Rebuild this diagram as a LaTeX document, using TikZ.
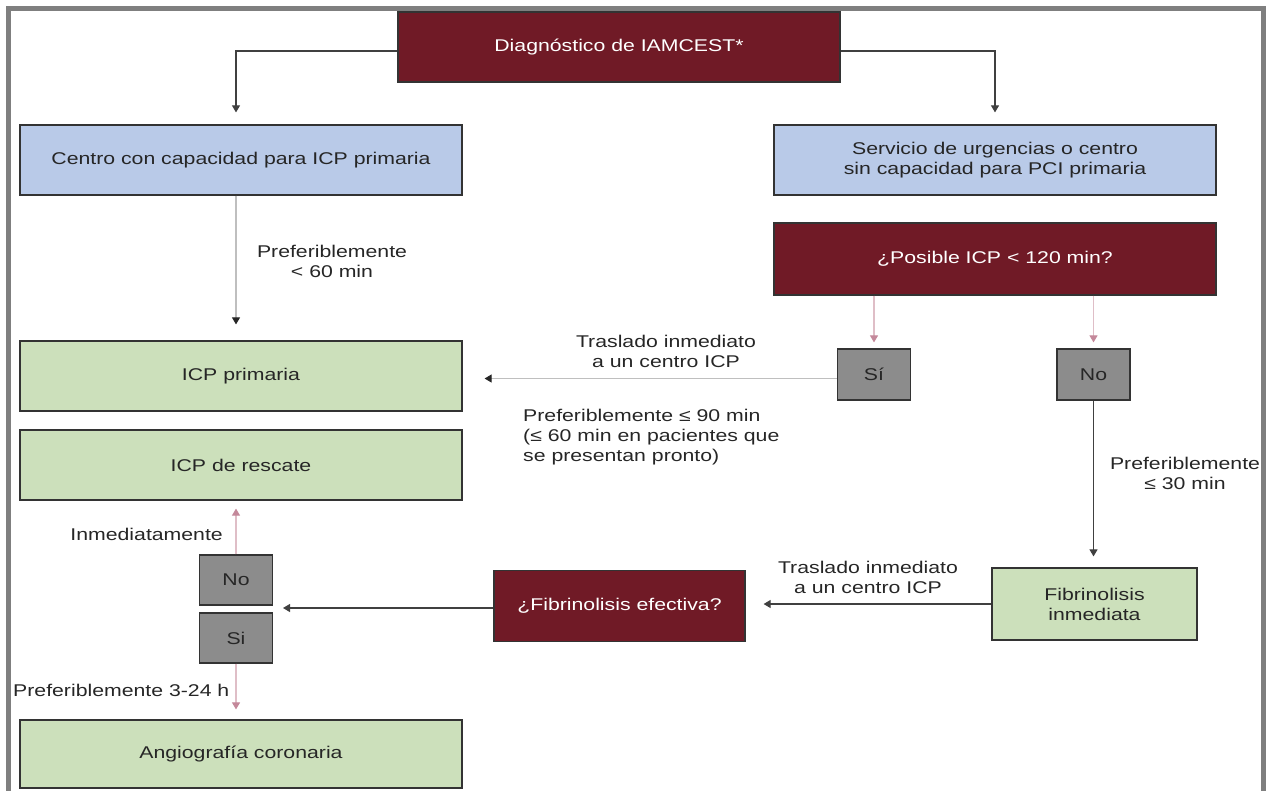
\documentclass[tikz,border=0pt]{standalone}
\usepackage{fontspec}
\setmainfont{Liberation Sans}[FakeStretch=1.25]
\usetikzlibrary{arrows.meta}

\definecolor{vino}{HTML}{701A26}
\definecolor{azul}{HTML}{B9CAE8}
\definecolor{verde}{HTML}{CCE0BB}
\definecolor{gris}{HTML}{8C8C8C}
\definecolor{rosa}{HTML}{C4889A}
\definecolor{marco}{HTML}{7F7F7F}
\definecolor{tinta}{HTML}{262626}

\begin{document}
\begin{tikzpicture}[x=1pt,y=-1pt,font=\fontsize{17}{20}\selectfont,
	>={Triangle[width=8pt,length=7pt]}]
	\tikzstyle{box}=[draw=black!80,line width=1.2pt,inner sep=2pt,align=center,text=tinta]
	\tikzstyle{wide box}=[box,minimum width=442pt,minimum height=70pt]
	\tikzstyle{question box}=[wide box,fill=vino,text=white]
	\tikzstyle{service box}=[wide box,fill=azul]
	\tikzstyle{treat box}=[wide box,fill=verde]
	\tikzstyle{answer}=[box,fill=gris,minimum width=73pt,minimum height=51pt]
	\tikzstyle{note}=[align=center,text=tinta,inner sep=1pt]
	\tikzstyle{flow}=[->,draw=black!75,line width=1.1pt]
	\tikzstyle{light flow}=[flow,draw=black!25,-{Triangle[width=8pt,length=7pt,color=black!85]}]
	\tikzstyle{pink flow}=[flow,draw=rosa!55,-{Triangle[width=8pt,length=7pt,color=rosa]}]

	\useasboundingbox (0,0) rectangle (1271,790);

	% Draw the frame
	\draw[marco,line width=5pt] (8,800) |- (1263,8) -- (1263,800);

	% Draw the top of the chart
	\node[question box] (diag) at (619,47) {Diagnóstico de IAMCEST*};
	\node[service box] (centro) at (241,160) {Centro con capacidad para ICP primaria};
	\node[service box] (servicio) at (995,160) {Servicio de urgencias o centro\\sin capacidad para PCI primaria};
	\node[question box,minimum height=72pt] (posible) at (995,259) {¿Posible ICP < 120 min?};

	% Draw the treatment boxes on the left
	\node[treat box] (primaria) at (241,376) {ICP primaria};
	\node[treat box] (rescate) at (241,465) {ICP de rescate};
	\node[treat box,minimum height=68pt] (angio) at (241,754) {Angiografía coronaria};

	% Draw the answers
	\node[answer] (si) at (874,374.5) {Sí};
	\node[answer] (no) at (1093.5,374.5) {No};
	\node[answer,minimum height=50pt] (no2) at (236,580) {No};
	\node[answer,minimum height=50pt] (si2) at (236,638) {Si};

	% Draw the fibrinolysis boxes
	\node[treat box,minimum width=205pt,minimum height=72pt] (fibri) at (1094.5,604) {Fibrinolisis\\inmediata};
	\node[question box,minimum width=251pt,minimum height=71pt] (efectiva) at (619.5,606) {¿Fibrinolisis efectiva?};
	\coordinate (nosi) at (273,608);

	% Connect the boxes
	\draw[flow,shorten >=12pt] ([yshift=-4pt]diag.west) -| (centro.north -| no2.north);
	\draw[flow,shorten >=12pt] ([yshift=-4pt]diag.east) -| (servicio.north);
	\draw[light flow,shorten >=16pt] (centro.south -| no2.north) -- (primaria.north -| no2.north);
	\draw[light flow,shorten >=22pt] ([yshift=-4pt]si.west) -- ([yshift=-4pt]si.west -| primaria.east);
	\draw[pink flow,shorten >=6pt] (si.north |- posible.south) -- (si.north);
	\draw[pink flow,shorten >=6pt] (no.north |- posible.south) -- (no.north);
	\draw[flow,shorten >=11pt] (no.south) -- (no.south |- fibri.north);
	\draw[flow,shorten >=18pt] (fibri.west) -- (fibri.west -| efectiva.east);
	\draw[flow,shorten >=10pt] (nosi -| efectiva.west) -- (nosi);
	\draw[pink flow,shorten >=8pt] (no2.north) -- (no2.north |- rescate.south);
	\draw[pink flow,shorten >=10pt] (si2.south) -- (si2.south |- angio.north);

	% Annotate the connectors
	\node[note] (lbl60) at (332,261) {Preferiblemente\\< 60 min};
	\node[note] (lbltr1) at (666,351) {Traslado inmediato\\a un centro ICP};
	\node[note,anchor=west,align=left] (lbl90) at (522,437) {Preferiblemente ≤ 90 min\\(≤ 60 min en pacientes que\\se presentan pronto)};
	\node[note] (lbl30) at (1185,473) {Preferiblemente\\≤ 30 min};
	\node[note] (lbltr2) at (868,577) {Traslado inmediato\\a un centro ICP};
	\node[note,anchor=east] (lblinm) at (224,534) {Inmediatamente};
	\node[note,anchor=west] (lbl324) at (12,690) {Preferiblemente 3-24 h};
\end{tikzpicture}
\end{document}
